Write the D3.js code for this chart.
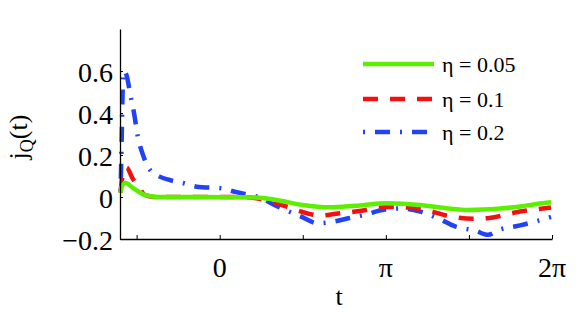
<!DOCTYPE html>
<html>
<head>
<meta charset="utf-8">
<script src="https://cdn.jsdelivr.net/npm/d3@7"></script>
</head>
<body style="margin:0">
<script>
const PI = Math.PI;

// eta = 0.05
const tGreen = [-1.874, -1.855, -1.78, -1.65, -1.42, -1.135, -0.38, 0.757, 1.079, 1.571, 2.082, 2.555, 3.161, 3.785, 4.164, 4.694, 5.3, 5.68, 6.0, 6.264];
const jGreen = [0.02, 0.05, 0.067, 0.045, 0.01, 0.0, 0.0, -0.003, -0.014, -0.038, -0.049, -0.042, -0.030, -0.038, -0.05, -0.062, -0.055, -0.045, -0.033, -0.025];

// eta = 0.1
const tRed = [-1.874, -1.85, -1.76, -1.65, -1.51, -1.42, -1.23, 0.4, 0.66, 1.079, 1.55, 1.89, 2.2, 2.6, 3.2, 3.55, 3.9, 4.35, 4.8, 5.1, 5.56, 6.0, 6.264];
const jRed = [0.02, 0.08, 0.14, 0.09, 0.04, 0.01, 0.0, 0.0, -0.005, -0.03, -0.07, -0.088, -0.08, -0.068, -0.048, -0.05, -0.062, -0.092, -0.104, -0.1, -0.075, -0.058, -0.05];

// eta = 0.2
const tBlue = [-1.874, -1.855, -1.835, -1.81, -1.75, -1.70, -1.62, -1.55, -1.45, -1.32, -1.135, -0.946, -0.70, -0.435, 0.04, 0.28, 0.72, 1.136, 1.51, 1.86, 2.08, 2.46, 2.74, 3.12, 3.41, 3.79, 4.16, 4.45, 4.83, 5.07, 5.30, 5.68, 6.06, 6.264];
const jBlue = [0.03, 0.25, 0.5, 0.6, 0.57, 0.5, 0.4, 0.29, 0.2, 0.13, 0.097, 0.081, 0.067, 0.049, 0.041, 0.025, 0.0, -0.05, -0.09, -0.125, -0.12, -0.1, -0.085, -0.06, -0.055, -0.07, -0.105, -0.14, -0.16, -0.18, -0.155, -0.135, -0.11, -0.095];

const seriesNames = ["η = 0.05", "η = 0.1", "η = 0.2"];
const xTickVals = [-PI / 2, 0, PI / 2, PI, 3 * PI / 2, 2 * PI];
const xLabelVals = [0, PI, 2 * PI];
const xLabels = ["0", "π", "2π"];
const yTickVals = [-0.2, 0, 0.2, 0.4, 0.6];
const yLabels = ["−0.2", "0", "0.2", "0.4", "0.6"];

const colors = ["#5cf000", "#f51010", "#2142f5"];
const dashes = [null, "15,12", "2,10,15,10"];

const series = [
  tGreen.map((t, i) => ({t: t, v: jGreen[i]})),
  tRed.map((t, i) => ({t: t, v: jRed[i]})),
  tBlue.map((t, i) => ({t: t, v: jBlue[i]}))
];

const x = d3.scaleLinear().domain([-0.6 * PI, 2 * PI]).range([120, 552]);
const y = d3.scaleLinear().domain([-0.2, 0.8]).range([239, 29]);

const svg = d3.select("body").append("svg").attr("width", 581).attr("height", 312);

function addText(px, py, str, size, anchor) {
  return svg.append("text")
    .attr("x", px).attr("y", py)
    .attr("text-anchor", anchor)
    .style("font-family", "'Liberation Serif'")
    .style("font-size", size + "px")
    .text(str);
}

const line = d3.line()
  .x(d => x(d.t))
  .y(d => y(d.v))
  .curve(d3.curveMonotoneX);

[2, 1, 0].forEach(i => {
  svg.append("path")
    .datum(series[i])
    .attr("d", line)
    .attr("fill", "none")
    .attr("stroke", colors[i])
    .attr("stroke-width", 4.5)
    .attr("stroke-dasharray", dashes[i]);
});

// axes (lines and inward ticks only; labels drawn below)
const gx = svg.append("g").attr("transform", "translate(0,239)")
  .call(d3.axisBottom(x).tickValues(xTickVals).tickFormat("").tickSizeInner(-4).tickSizeOuter(0));
const gy = svg.append("g").attr("transform", "translate(120,0)")
  .call(d3.axisLeft(y).tickValues(yTickVals).tickFormat("").tickSizeInner(-3).tickSizeOuter(0));
[gx, gy].forEach(g => {
  g.select(".domain").attr("stroke", "#000").attr("stroke-width", 1.3);
  g.selectAll(".tick line").attr("stroke", "#000");
  g.selectAll(".tick text").remove();
});

xLabelVals.forEach((v, i) => addText(x(v), 277, xLabels[i], 28, "middle"));
yTickVals.forEach((v, i) => addText(113, y(v) + 11, yLabels[i], 28, "end"));

addText(339, 305, "t", 26, "middle");

const ylab = addText(0, 0, "", 26, "middle")
  .attr("transform", "translate(27,137) rotate(-90)");
ylab.append("tspan").text("j");
ylab.append("tspan").style("font-size", "18px").attr("dy", 6).text("Q");
ylab.append("tspan").attr("dy", -6).text("(t)");

// legend
const legendY = [64, 99, 132];
seriesNames.forEach((name, i) => {
  svg.append("line")
    .attr("x1", 363).attr("x2", 434)
    .attr("y1", legendY[i]).attr("y2", legendY[i])
    .attr("stroke", colors[i])
    .attr("stroke-width", 4.5)
    .attr("stroke-dasharray", dashes[i]);
  addText(442, legendY[i] + 8, name, 22, "start");
});
</script>
</body>
</html>
